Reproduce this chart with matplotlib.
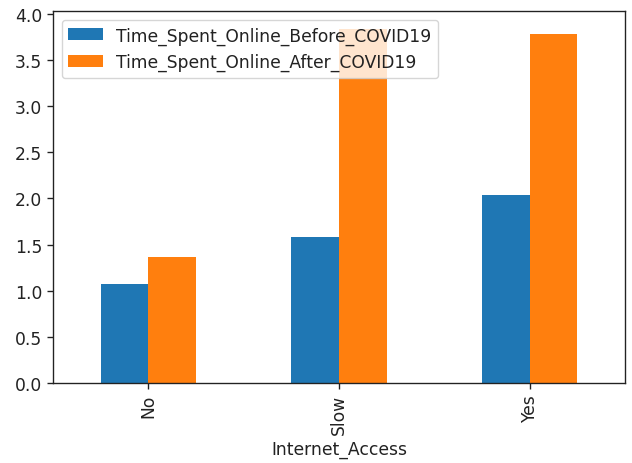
import matplotlib
matplotlib.use("Agg")
import matplotlib.pyplot as plt
import numpy as np

categories = ["No", "Slow", "Yes"]
before = [1.07, 1.58, 2.04]
after = [1.37, 3.84, 3.78]
series_names = ["Time_Spent_Online_Before_COVID19", "Time_Spent_Online_After_COVID19"]

s = 1.23
plt.rcParams.update({
    "font.size": 10 * s,
    "axes.linewidth": 0.8 * s,
    "xtick.major.size": 3.5 * s,
    "ytick.major.size": 3.5 * s,
    "xtick.major.width": 0.8 * s,
    "ytick.major.width": 0.8 * s,
    "text.color": "#222222",
    "xtick.color": "#222222",
    "ytick.color": "#222222",
    "axes.labelcolor": "#222222",
    "axes.edgecolor": "#222222",
})

fig = plt.figure(figsize=(6.32, 4.64), dpi=100)
ax = fig.add_axes([53/632, 1-384/464, 572/632, 372/464])
x = np.arange(len(categories))
w = 0.25
ax.bar(x - w/2, before, w, color="#1f77b4", label=series_names[0])
ax.bar(x + w/2, after, w, color="#ff7f0e", label=series_names[1])
ax.set_xticks(x)
ax.set_xticklabels(categories, rotation=90)
ax.set_xlim(-0.5, 2.5)
ax.set_ylim(0, max(after) * 1.05)
ax.set_xlabel("Internet_Access")
ax.legend(loc="upper left")
fig.savefig("out.png", dpi=100)
